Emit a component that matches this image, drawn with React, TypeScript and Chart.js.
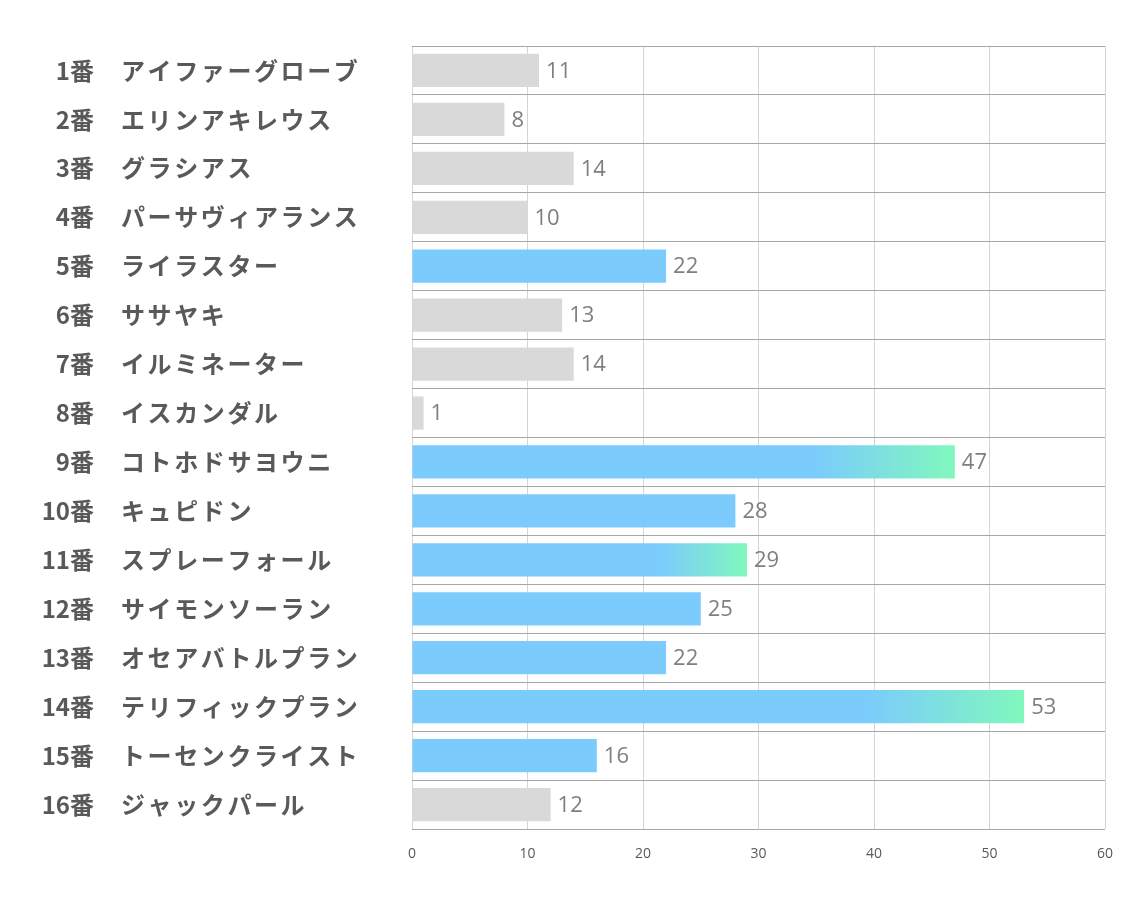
import React, { useEffect, useRef } from "react";
import { Chart, registerables } from "chart.js";

Chart.register(...registerables);

const numbers = ["1番", "2番", "3番", "4番", "5番", "6番", "7番", "8番", "9番", "10番", "11番", "12番", "13番", "14番", "15番", "16番"];
const names = [
  "アイファーグローブ",
  "エリンアキレウス",
  "グラシアス",
  "パーサヴィアランス",
  "ライラスター",
  "ササヤキ",
  "イルミネーター",
  "イスカンダル",
  "コトホドサヨウニ",
  "キュピドン",
  "スプレーフォール",
  "サイモンソーラン",
  "オセアバトルプラン",
  "テリフィックプラン",
  "トーセンクライスト",
  "ジャックパール",
];
const values = [11, 8, 14, 10, 22, 13, 14, 1, 47, 28, 29, 25, 22, 53, 16, 12];
// 0 = gray, 1 = blue, 2 = blue→green gradient
const colorKind = [0, 0, 0, 0, 1, 0, 0, 0, 2, 1, 2, 1, 1, 2, 1, 0];
const xTicks = [0, 10, 20, 30, 40, 50, 60];

const GRAY = "#d9d9d9";
const BLUE = "#7bcbfd";
const GREEN = "#80f8bd";

export default function App() {
  const ref = useRef<HTMLCanvasElement | null>(null);

  useEffect(() => {
    if (!ref.current) return;
    const labelPlugin = {
      id: "customLabels",
      afterDatasetsDraw(chart: any) {
        const ctx = chart.ctx;
        const meta = chart.getDatasetMeta(0);
        const yScale = chart.scales.y;
        ctx.save();
        // value labels
        ctx.font = '22px "Open Sans", sans-serif';
        ctx.fillStyle = "#7f7f7f";
        ctx.textAlign = "left";
        ctx.textBaseline = "middle";
        meta.data.forEach((bar: any, i: number) => {
          ctx.fillText(String(values[i]), bar.x + 7, bar.y + 1);
        });
        // category labels
        ctx.fillStyle = "#595959";
        ctx.font = 'bold 24px "Noto Sans CJK JP", sans-serif';
        numbers.forEach((n, i) => {
          const y = yScale.getPixelForValue(i);
          ctx.textAlign = "right";
          (ctx as any).letterSpacing = "0px";
          ctx.fillText(n, 94, y);
          ctx.textAlign = "left";
          (ctx as any).letterSpacing = "2.6px";
          ctx.fillText(names[i], 121, y);
        });
        ctx.restore();
      },
    };

    const chart = new Chart(ref.current, {
      type: "bar",
      data: {
        labels: names,
        datasets: [
          {
            data: values,
            backgroundColor: (c: any) => {
              const i = c.dataIndex;
              const kind = colorKind[i];
              if (kind === 0) return GRAY;
              if (kind === 1) return BLUE;
              const chartObj = c.chart;
              const xs = chartObj.scales && chartObj.scales.x;
              if (!xs || !chartObj.chartArea) return BLUE;
              const x0 = xs.getPixelForValue(0);
              const x1 = xs.getPixelForValue(values[i]);
              const g = chartObj.ctx.createLinearGradient(x0, 0, x1, 0);
              g.addColorStop(0, BLUE);
              g.addColorStop(0.74, BLUE);
              g.addColorStop(1, GREEN);
              return g;
            },
            borderWidth: 0,
            barPercentage: 0.68,
            categoryPercentage: 1,
          },
        ],
      },
      options: {
        indexAxis: "y",
        responsive: false,
        animation: false,
        layout: { padding: { top: 46, right: 29, left: 0, bottom: 0 } },
        plugins: {
          legend: { display: false },
          tooltip: { enabled: false },
        },
        scales: {
          x: {
            min: 0,
            max: 60,
            afterBuildTicks: (s: any) => {
              s.ticks = xTicks.map((v) => ({ value: v }));
            },
            afterFit: (s: any) => {
              s.height = 907 - 46 - 783;
            },
            grid: { color: "#d4d4d4", lineWidth: 1, drawTicks: false },
            border: { display: false },
            ticks: {
              color: "#595959",
              font: { family: '"Open Sans", sans-serif', size: 14 },
              padding: 17,
            },
          },
          y: {
            afterFit: (s: any) => {
              s.width = 412;
            },
            grid: { color: "#a6a6a6", lineWidth: 1, drawTicks: false, offset: true },
            border: { display: false },
            ticks: { display: false },
          },
        },
      },
      plugins: [labelPlugin],
    } as any);
    return () => chart.destroy();
  }, []);

  return (
    <div style={{ position: "fixed", left: 0, top: 0, width: 1134, height: 907, background: "#fff" }}>
      <canvas ref={ref} width={1134} height={907} style={{ width: 1134, height: 907 }} />
    </div>
  );
}
